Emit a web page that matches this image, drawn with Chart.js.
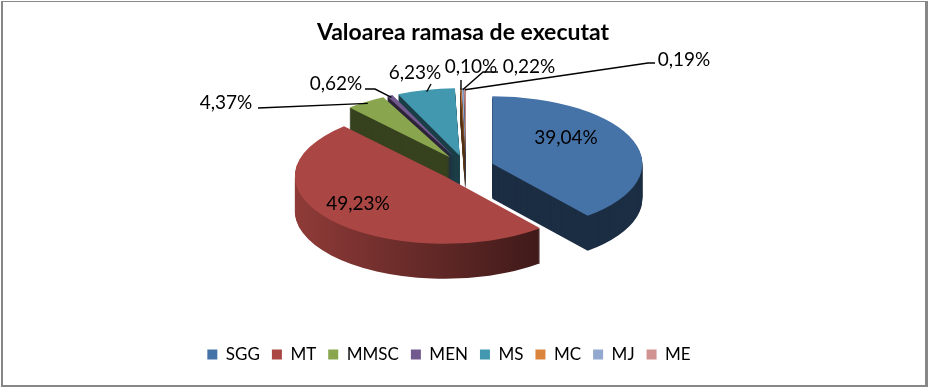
<!DOCTYPE html>
<html>
<head>
<meta charset="utf-8">
<script src="https://cdn.jsdelivr.net/npm/chart.js@4.4.0/dist/chart.umd.min.js"></script>
<style>
  html, body { margin: 0; padding: 0; background: #fff; }
  canvas { display: block; }
</style>
</head>
<body>
<canvas id="pieChart" width="928" height="387"></canvas>
<script>
"use strict";

// values (share of the remaining value, %)
var categories = ['SGG', 'MT', 'MMSC', 'MEN', 'MS', 'MC', 'MJ', 'ME'];
var shares = [39.04, 49.23, 4.37, 0.62, 6.23, 0.10, 0.22, 0.19];
var sliceColors = ['#4572A7', '#AA4643', '#89A54E', '#71588F', '#4198AF', '#DB843D', '#93A9CF', '#D19392'];
var titleText = 'Valoarea ramasa de executat';

// placement of the tilted pie (screen px)
var pie = { cx: 466, cy: 168, r: 150, tilt: 0.45, depth: 35, explode: 28 };

// where each percentage label sits, with leader elbows for the outside ones
var labelSpots = [
    { x: 566, y: 138 },
    { x: 358, y: 204 },
    { x: 226, y: 103, lead: [[258, 108]] },
    { x: 336, y: 84, lead: [[365, 89], [375, 89]] },
    { x: 415, y: 73, lead: [[431, 84]] },
    { x: 471, y: 67, lead: [[461, 80]] },
    { x: 529, y: 67, lead: [[498, 72], [483, 72]] },
    { x: 684, y: 60, lead: [[655, 63], [648, 63]] }
];

var FONT = 'Lato, "Open Sans", sans-serif';

function shade(hex, f) {
    var n = parseInt(hex.slice(1), 16);
    var r = Math.round(((n >> 16) & 255) * f);
    var g = Math.round(((n >> 8) & 255) * f);
    var b = Math.round((n & 255) * f);
    return 'rgb(' + r + ',' + g + ',' + b + ')';
}

function midAngle(arc) {
    return (arc.startAngle + arc.endAngle) / 2;
}

/* white background and the grey chart frame */
var framePlugin = {
    id: 'frame',
    beforeDraw: function (chart) {
        var ctx = chart.ctx;
        ctx.save();
        ctx.fillStyle = '#fff';
        ctx.fillRect(0, 0, chart.width, chart.height);
        ctx.fillStyle = '#878787';
        ctx.fillRect(1, 1, 2, chart.height - 2);
        ctx.fillRect(1, 1, chart.width - 2, 1);
        ctx.fillRect(chart.width - 3, 1, 3, chart.height - 1);
        ctx.fillRect(1, chart.height - 2, chart.width - 1, 2);
        ctx.restore();
    }
};

/* exploded 3D pie: squash the library's arcs and stack darker copies under them */
var pie3dPlugin = {
    id: 'pie3d',
    beforeDatasetsDraw: function (chart) {
        var ctx = chart.ctx;
        var meta = chart.getDatasetMeta(0);
        var S = pie.r / meta.data[0].outerRadius;

        var order = meta.data.map(function (arc, i) { return { arc: arc, i: i }; });
        order.sort(function (a, b) {
            return Math.sin(midAngle(a.arc)) - Math.sin(midAngle(b.arc));
        });

        order.forEach(function (o) {
            var arc = o.arc;
            var mid = midAngle(arc);
            var ex = Math.cos(mid) * pie.explode;
            var ey = Math.sin(mid) * pie.explode;
            var base = sliceColors[o.i];

            ctx.save();
            ctx.translate(pie.cx, pie.cy);
            ctx.scale(S, S * pie.tilt);
            ctx.translate(-arc.x + ex / S, -arc.y + ey / S);

            // side colour: lit curved wall for front slices, dark cut faces otherwise
            var sideFill;
            if (Math.sin(mid) > 0) {
                var toLocal = function (X) { return arc.x - ex / S + (X - pie.cx) / S; };
                sideFill = ctx.createLinearGradient(toLocal(295), 0, toLocal(540), 0);
                sideFill.addColorStop(0, shade(base, 0.84));
                sideFill.addColorStop(1, shade(base, 0.37));
            } else {
                sideFill = shade(base, 0.4);
            }

            var side = Object.create(arc);
            side.options = Object.assign({}, arc.options, { backgroundColor: sideFill, borderWidth: 0 });
            for (var d = pie.depth; d > 0; d--) {
                ctx.save();
                ctx.translate(0, d / (S * pie.tilt));
                side.draw(ctx);
                ctx.restore();
            }
            arc.draw(ctx);
            ctx.restore();
        });
        return false;
    },
    afterDraw: function (chart) {
        var ctx = chart.ctx;
        var meta = chart.getDatasetMeta(0);

        ctx.save();
        // title
        ctx.fillStyle = '#000';
        ctx.textAlign = 'center';
        ctx.textBaseline = 'middle';
        ctx.font = 'bold 23px ' + FONT;
        ctx.fillText(titleText, 463, 33);

        // leader lines
        ctx.strokeStyle = '#000';
        ctx.lineWidth = 1.4;
        meta.data.forEach(function (arc, i) {
            var spot = labelSpots[i];
            if (!spot.lead) return;
            var mid = midAngle(arc);
            var rr = pie.r + pie.explode - 4;
            var tipX = pie.cx + Math.cos(mid) * rr;
            var tipY = pie.cy + Math.sin(mid) * rr * pie.tilt;
            ctx.beginPath();
            ctx.moveTo(spot.lead[0][0], spot.lead[0][1]);
            for (var k = 1; k < spot.lead.length; k++) {
                ctx.lineTo(spot.lead[k][0], spot.lead[k][1]);
            }
            ctx.lineTo(tipX, tipY);
            ctx.stroke();
        });

        // percentage labels
        ctx.font = '19px ' + FONT;
        meta.data.forEach(function (arc, i) {
            var txt = shares[i].toFixed(2).replace('.', ',') + '%';
            ctx.fillText(txt, labelSpots[i].x, labelSpots[i].y);
        });
        ctx.restore();
    }
};

var ctx = document.getElementById('pieChart').getContext('2d');
var chart = new Chart(ctx, {
    type: 'pie',
    data: {
        labels: categories,
        datasets: [{
            data: shares,
            backgroundColor: sliceColors,
            borderWidth: 0,
            offset: 0
        }]
    },
    options: {
        responsive: false,
        devicePixelRatio: 1,
        animation: false,
        layout: {
            padding: { top: 50, right: 30, bottom: 14, left: 0 }
        },
        plugins: {
            title: { display: false },
            tooltip: { enabled: false },
            legend: {
                position: 'bottom',
                labels: {
                    boxWidth: 10,
                    boxHeight: 10,
                    padding: 12,
                    color: '#000',
                    font: { family: FONT, size: 17 }
                }
            }
        }
    },
    plugins: [framePlugin, pie3dPlugin]
});
</script>
</body>
</html>
